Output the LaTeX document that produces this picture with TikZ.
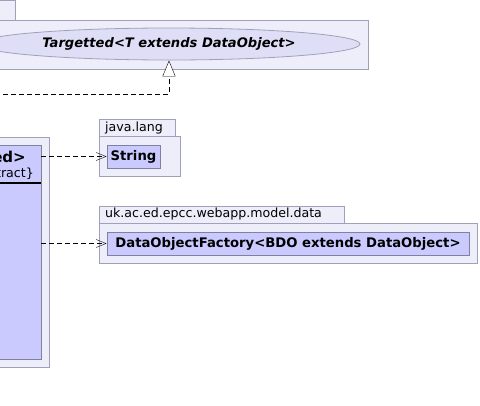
\documentclass[tikz,border=0pt]{standalone}
\usepackage{fontspec}
\setmainfont{DejaVu Sans}
\usepackage{xcolor}
\usepackage{tikz}
\usetikzlibrary{arrows.meta,shapes.geometric}

\definecolor{pkgfill}{RGB}{238,238,250}
\definecolor{pkgline}{RGB}{160,160,184}
\definecolor{clsfill}{RGB}{202,202,255}
\definecolor{clsline}{RGB}{128,128,160}
\definecolor{ellfill}{RGB}{222,222,246}

\begin{document}
\begin{tikzpicture}[x=1pt,y=-1pt,
    pkg/.style={draw=pkgline,fill=pkgfill,line width=0.8pt},
    cls/.style={draw=clsline,fill=clsfill,line width=0.8pt,inner sep=0pt,
        font=\fontsize{13.2}{15}\selectfont\bfseries},
    pkgname/.style={anchor=west,inner sep=0pt,font=\fontsize{12.6}{14}\selectfont},
    dep/.style={dash pattern=on 5pt off 3pt,-{Straight Barb[length=10pt,width=8pt]}},
    real/.style={dash pattern=on 5pt off 3pt,-{Triangle[open,fill=white,length=16pt,width=13pt]}}]
\useasboundingbox (0,0) rectangle (480,405);
\begin{scope}
    % top package with the interface
    \draw[pkg] (-20,0) rectangle (15,20);
    \draw[pkg] (-20,20) rectangle (368,69);
    \node[ellipse,draw=pkgline,fill=ellfill,line width=0.8pt,minimum width=382pt,
        minimum height=32pt,inner sep=0pt,
        font=\fontsize{13.1}{15}\selectfont\bfseries\itshape] (tgt) at (169,44)
        {Targetted<T extends DataObject>};
\end{scope}

\begin{scope}
    % package of the abstract class
    \draw[pkg] (-20,137) rectangle (49,367);
    \node[cls,minimum width=61pt,minimum height=214pt] (tgd) at (10.5,252) {};
    \draw[black,line width=2pt] (-10,183) -- (41,183);
    \node[anchor=base east,inner sep=0pt,font=\fontsize{15}{17}\selectfont\bfseries]
        (tgdname) at (26,162) {ed>};
    \node[anchor=base east,inner sep=0pt,font=\fontsize{12.6}{14}\selectfont]
        (tgdabs) at (34,177) {tract\}};
\end{scope}

\begin{scope}
    % java.lang
    \draw[pkg] (99,119) rectangle (175,136);
    \draw[pkg] (99,136) rectangle (180,176);
    \node[pkgname] (jl) at (105,128) {java.lang};
    \node[cls,minimum width=53pt,minimum height=23pt] (str) at (133.5,156.5) {String};
\end{scope}

\begin{scope}
    % uk.ac.ed.epcc.webapp.model.data
    \draw[pkg] (99,206) rectangle (344,223);
    \draw[pkg] (99,223) rectangle (477,263);
    \node[pkgname] (md) at (105,214) {uk.ac.ed.epcc.webapp.model.data};
    \node[cls,minimum width=362pt,minimum height=23pt] (dof) at (288,243.5)
        {DataObjectFactory<BDO extends DataObject>};
\end{scope}

\coordinate (impl) at (-5,94);
\draw[real] (impl) -| (tgt.south);
\draw[dep] (str.west -| tgd.east) -- (str.west);
\draw[dep] (dof.west -| tgd.east) -- (dof.west);
\end{tikzpicture}
\end{document}
